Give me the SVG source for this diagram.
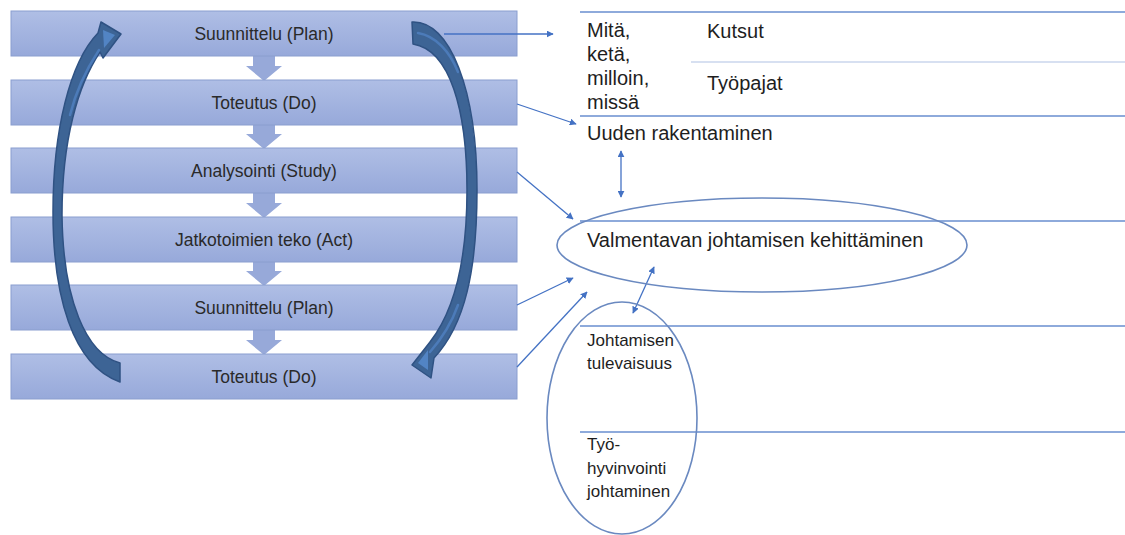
<svg xmlns="http://www.w3.org/2000/svg" width="1125" height="535" viewBox="0 0 1125 535">
<style>
.box{fill:url(#bg);stroke:#8a9ecf;stroke-width:1}
.bt{font-family:"Liberation Sans",Arial,sans-serif;font-size:17.5px;fill:#2a2a2a;text-anchor:middle}
.rt{font-family:"Liberation Sans",Arial,sans-serif;font-size:20px;fill:#1e1e1e}
.st{font-family:"Liberation Sans",Arial,sans-serif;font-size:17px;fill:#1e1e1e}
.dn{fill:#97a9d9}
.hl{stroke:#8eaadb;stroke-width:2;fill:none}
.hl2{stroke:#d7e0f1;stroke-width:2;fill:none}
.cn{stroke:#4472c4;stroke-width:1.3;fill:none}
.el{stroke:#6a89c0;stroke-width:1.6;fill:none}
.big{fill:#3d6495;stroke:#2f5283;stroke-width:1.5;stroke-linejoin:round}
.lite{fill:none;stroke:#4c7bb9;stroke-width:2.5;stroke-linecap:round}
</style>
<defs>
<linearGradient id="bg" x1="0" y1="0" x2="0" y2="1">
<stop offset="0" stop-color="#afbee5"/>
<stop offset="1" stop-color="#97a9da"/>
</linearGradient>
<marker id="ah" viewBox="0 0 10 10" refX="9" refY="5" markerWidth="7" markerHeight="7" markerUnits="userSpaceOnUse" orient="auto-start-reverse">
<path d="M0,0 L10,5 L0,10 Z" fill="#4472c4"/>
</marker>
</defs>

<g id="lines">
<line class="hl" x1="580" y1="12" x2="1125" y2="12"/>
<line class="hl2" x1="691" y1="62" x2="1125" y2="62"/>
<line class="hl" x1="580" y1="116" x2="1125" y2="116"/>
<line class="hl" x1="580" y1="221" x2="1125" y2="221"/>
<line class="hl" x1="580" y1="326" x2="1125" y2="326"/>
<line class="hl" x1="580" y1="432" x2="1125" y2="432"/>
</g>

<g id="down-arrows">
<path class="dn" d="M253,56 H275 V66 H282 L264,81 L246,66 H253 Z"/>
<path class="dn" d="M253,125 H275 V134 H282 L264,149 L246,134 H253 Z"/>
<path class="dn" d="M253,193 H275 V203 H282 L264,218 L246,203 H253 Z"/>
<path class="dn" d="M253,262 H275 V271 H282 L264,286 L246,271 H253 Z"/>
<path class="dn" d="M253,330 H275 V340 H282 L264,355 L246,340 H253 Z"/>
</g>

<g id="box1"><rect class="box" x="11" y="11" width="506" height="45"/><text class="bt" x="264" y="40">Suunnittelu (Plan)</text></g>
<g id="box2"><rect class="box" x="11" y="80" width="506" height="45"/><text class="bt" x="264" y="109">Toteutus (Do)</text></g>
<g id="box3"><rect class="box" x="11" y="148" width="506" height="45"/><text class="bt" x="264" y="177">Analysointi (Study)</text></g>
<g id="box4"><rect class="box" x="11" y="217" width="506" height="45"/><text class="bt" x="264" y="246">Jatkotoimien teko (Act)</text></g>
<g id="box5"><rect class="box" x="11" y="285" width="506" height="45"/><text class="bt" x="264" y="314">Suunnittelu (Plan)</text></g>
<g id="box6"><rect class="box" x="11" y="354" width="506" height="45"/><text class="bt" x="264" y="383">Toteutus (Do)</text></g>

<g id="cycle-left">
<path class="big" d="M120,382 L120,363 C86,354 63,300 62,215 C62,140 78,85 100,52 L103,58 L121,34 L101,22 L98,33 C70,62 53,130 53,212 C53,295 72,365 120,382 Z"/>
<path class="lite" d="M70,115 C76,90 86,70 99,50"/>
<path d="M103,30 L115,35 L104,48 Z" fill="#5284c4"/>
</g>
<g id="cycle-right">
<path class="big" d="M412,22 C450,20 477,90 477,190 C477,270 465,325 434,358 L431,378 L412,365 L430,342 C455,310 467,260 467,190 C467,110 450,50 413,44 Z"/>
<path class="lite" d="M418,33 C436,36 450,52 458,72"/>
<path class="lite" d="M458,305 C452,322 444,336 430,352"/>
<path d="M428,350 L418,363 L428,370 Z" fill="#5284c4"/>
</g>

<g id="connectors">
<line class="cn" x1="444" y1="34" x2="553" y2="34" marker-end="url(#ah)"/>
<line class="cn" x1="517" y1="104" x2="576" y2="124" marker-end="url(#ah)"/>
<line class="cn" x1="517" y1="172" x2="573" y2="219" marker-end="url(#ah)"/>
<line class="cn" x1="517" y1="305" x2="573" y2="278" marker-end="url(#ah)"/>
<line class="cn" x1="517" y1="367" x2="587" y2="292" marker-end="url(#ah)"/>
<line class="cn" x1="621" y1="151" x2="621" y2="197" marker-start="url(#ah)" marker-end="url(#ah)"/>
<line class="cn" x1="654" y1="267" x2="633" y2="313" marker-start="url(#ah)" marker-end="url(#ah)"/>
</g>

<g id="mita">
<text class="rt" x="587" y="37">Mitä,</text>
<text class="rt" x="587" y="61">ketä,</text>
<text class="rt" x="587" y="85">milloin,</text>
<text class="rt" x="587" y="109">missä</text>
</g>
<g id="kutsut"><text class="rt" x="707" y="38">Kutsut</text></g>
<g id="tyopajat"><text class="rt" x="707" y="90">Työpajat</text></g>
<g id="uuden"><text class="rt" x="587" y="140">Uuden rakentaminen</text></g>
<g id="valmentavan">
<ellipse class="el" cx="762" cy="245" rx="205" ry="47"/>
<text class="rt" x="587" y="247">Valmentavan johtamisen kehittäminen</text>
</g>
<g id="johtamisen">
<ellipse class="el" cx="622" cy="418" rx="75" ry="116"/>
<text class="st" x="587" y="346">Johtamisen</text>
<text class="st" x="587" y="369">tulevaisuus</text>
<text class="st" x="587" y="450">Työ-</text>
<text class="st" x="587" y="474">hyvinvointi</text>
<text class="st" x="587" y="497">johtaminen</text>
</g>
</svg>
